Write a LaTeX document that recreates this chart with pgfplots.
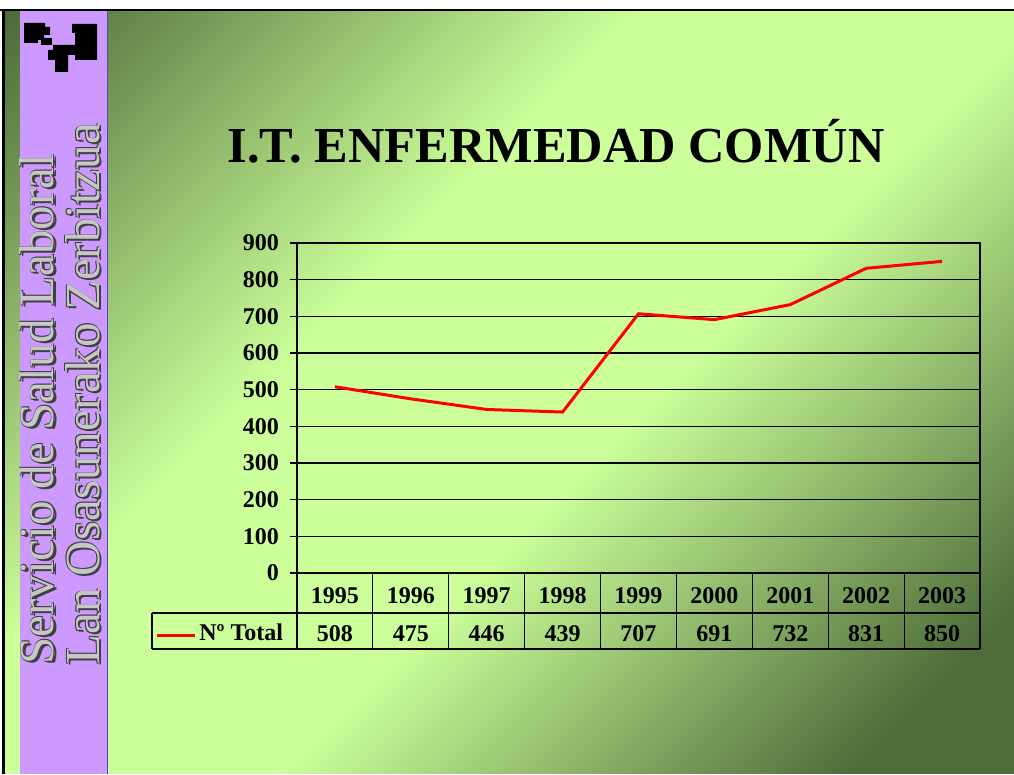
\documentclass[border=0pt]{standalone}
\usepackage{pgfplots}
\pgfplotsset{compat=1.18}
\usepackage{pgfplotstable}
\usepackage{fontspec}
\setmainfont{Liberation Serif}
\definecolor{lt}{RGB}{204,255,153}
\definecolor{dk}{RGB}{78,108,58}
\definecolor{purp}{RGB}{204,153,255}
\pgfdeclarehorizontalshading{slide}{100bp}{color(0bp)=(dk); color(15bp)=(dk); color(40bp)=(lt); color(56bp)=(lt); color(79bp)=(dk); color(100bp)=(dk)}
\pgfplotstableread{
x y
0 508
1 475
2 446
3 439
4 707
5 691
6 732
7 831
8 850
}\datatable
\newcommand\tabfont{\bfseries\fontsize{12pt}{12pt}\selectfont}
\newcommand\sidetext[3]{%
  \foreach \dx/\dy in {0.8/0.8,-0.8/0.8,0.8/-0.8,-0.8/-0.8,2/2}{\node[text=black!75] at ({#1+\dx},{#2+\dy}) {#3};}
  \node[text=black!22] at (#1,#2) {#3};}
\begin{document}
\begin{tikzpicture}[x=0.5pt,y=-0.5pt]
% background
\fill[white] (0,0) rectangle (1014,774);
\shade[shading=slide, shading angle=-45] (4,10) rectangle (1014,774);
\fill[black] (0,9) rectangle (1014,11);
\fill[black] (1.5,9) rectangle (4.5,774);
\fill[purp] (20,11) rectangle (107,774);
\draw[blue!40!gray, line width=0.6pt] (107.5,11) -- (107.5,774);
% logo
\fill[black] (24,23) -- (45,23) -- (45,27) -- (50,27) -- (50,35) -- (44,35) -- (44,40) -- (38,40) -- (38,43) -- (24,43) -- cycle;
\fill[black] (41,38) rectangle (52,45);
\fill[black] (53,45) -- (68,45) -- (68,72) -- (55,72) -- (55,60) -- (48,60) -- (48,50) -- (53,50) -- cycle;
\fill[black] (72,24) -- (97,24) -- (97,60) -- (75,60) -- (75,55) -- (67,55) -- (67,45) -- (75,45) -- (75,33) -- (72,33) -- cycle;
% sidebar text
\begin{scope}[every node/.style={rotate=90, anchor=base west, inner sep=0pt, font=\fontsize{24.5pt}{24.5pt}\selectfont}]
\sidetext{54}{665}{Servicio de Salud Laboral}
\sidetext{99}{665}{Lan Osasunerako Zerbitzua}
\end{scope}
% title
\node[anchor=base, inner sep=0pt, font=\bfseries\fontsize{25.2pt}{25.2pt}\selectfont] at (556,163) {I.T. ENFERMEDAD COMÚN};
\coordinate (axorig) at (297,573);
\begin{axis}[at={(axorig)}, anchor=south west, scale only axis,
  width=341.5pt, height=165pt,
  xmin=-0.5, xmax=8.5, ymin=0, ymax=900,
  ytick={0,100,...,900}, ytick pos=left,
  xtick={0,...,8}, xticklabels={1995,1996,1997,1998,1999,2000,2001,2002,2003},
  clip=false,
  axis line style={line width=0.6pt},
  ymajorgrids, grid style={black, line width=0.6pt},
  ytick style={black, line width=0.6pt},
  tick align=outside, major tick length=3.5pt,
  xtick style={draw=none},
  ticklabel style={font=\tabfont},
  /pgf/number format/assume math mode=true,
  yticklabel style={xshift=-2pt},
  xticklabel style={anchor=base, yshift=-12pt},
  ]
\addplot[red, line width=1.5pt, mark=none] table[x=x,y=y]{\datatable};
\addplot[draw=none, mark=none, nodes near coords, point meta=explicit,
  nodes near coords style={anchor=base, font=\tabfont, text=black}]
  table[x=x, y expr=-185.5, meta=y]{\datatable};
\end{axis}
% data table lines
\begin{scope}[line width=0.6pt]
\draw (297,573) -- (297,649);
\foreach \k in {1,...,8} {\draw ({297+75.889*\k},573) -- ({297+75.889*\k},649);}
\draw (980,573) -- (980,649);
\draw (152,613) -- (980,613);
\draw (152,649) -- (980,649);
\draw (152,613) -- (152,649);
\end{scope}
\draw[red, line width=1.5pt] (157,636) -- (195,636);
\node[anchor=base west, inner sep=0pt, font=\tabfont] at (199,641) {Nº Total};
\end{tikzpicture}
\end{document}
